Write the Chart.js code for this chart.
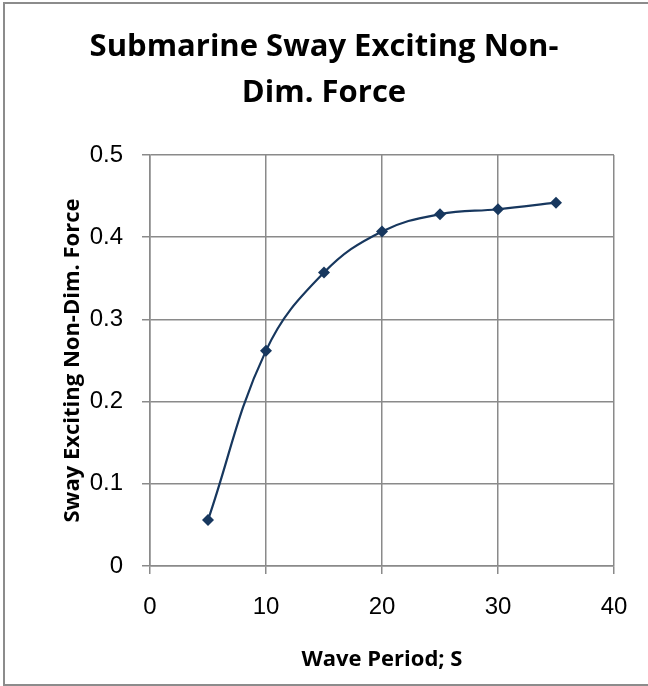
<!DOCTYPE html>
<html>
<head>
<meta charset="utf-8">
<script src="https://cdn.jsdelivr.net/npm/chart.js@4/dist/chart.umd.min.js"></script>
<style>
  html, body { margin: 0; padding: 0; background: #fff; overflow: hidden; }
  #wrap { position: relative; width: 648px; height: 686px; }
  #frame {
    position: absolute; left: 3px; top: 2px; width: 680px; height: 680px;
    border: 2px solid #8c8c8c; pointer-events: none;
  }
</style>
</head>
<body>
<div id="wrap">
  <canvas id="swayChart" width="648" height="686"></canvas>
  <div id="frame"></div>
</div>
<script>
// Datos
const periods = [5, 10, 15, 20, 25, 30, 35];
const forces = [0.056, 0.262, 0.357, 0.407, 0.428, 0.434, 0.442];
const xTicks = [0, 10, 20, 30, 40];
const yTicks = [0, 0.1, 0.2, 0.3, 0.4, 0.5];

const titleLines = ['Submarine Sway Exciting Non-', 'Dim. Force'];
const xTitle = 'Wave Period; S';
const yTitle = 'Sway Exciting Non-Dim. Force';

const lineColor = '#17375E';
const gridColor = '#8a8a8a';

const ctx = document.getElementById('swayChart').getContext('2d');
const swayChart = new Chart(ctx, {
    type: 'scatter',
    data: {
        datasets: [{
            label: yTitle,
            data: periods.map((p, i) => ({ x: p, y: forces[i] })),
            showLine: true,
            tension: 0.4,
            borderColor: lineColor,
            backgroundColor: lineColor,
            borderWidth: 2.2,
            pointStyle: 'rectRot',
            pointRadius: 6,
            pointBorderWidth: 0
        }]
    },
    options: {
        responsive: false,
        animation: false,
        layout: { padding: { left: 34, right: 34, top: 0, bottom: 9 } },
        plugins: {
            legend: { display: false },
            tooltip: { enabled: false },
            title: {
                display: true,
                text: titleLines,
                color: '#000',
                font: { family: 'Open Sans', size: 31, weight: 'bold', lineHeight: 1.484 },
                padding: { top: 24, bottom: 39 }
            }
        },
        scales: {
            x: {
                type: 'linear',
                min: xTicks[0],
                max: xTicks[xTicks.length - 1],
                afterBuildTicks: (scale) => { scale.ticks = xTicks.map(v => ({ value: v })); },
                afterFit: (scale) => { scale.height = 111; },
                ticks: {
                    color: '#000',
                    padding: 19,
                    font: { family: 'Liberation Sans', size: 24 }
                },
                grid: { color: gridColor, lineWidth: 1.5, tickLength: 8 },
                border: { color: gridColor, width: 1.5 },
                title: {
                    display: true,
                    text: xTitle,
                    color: '#000',
                    font: { family: 'Open Sans', size: 22, weight: 'bold' },
                    padding: { top: 4, bottom: 4 }
                }
            },
            y: {
                type: 'linear',
                min: yTicks[0],
                max: yTicks[yTicks.length - 1],
                afterBuildTicks: (scale) => { scale.ticks = yTicks.map(v => ({ value: v })); },
                afterFit: (scale) => { scale.width = 116; },
                ticks: {
                    color: '#000',
                    padding: 19,
                    font: { family: 'Liberation Sans', size: 24 },
                    callback: (v) => String(Math.round(v * 10) / 10)
                },
                grid: { color: gridColor, lineWidth: 1.5, tickLength: 8 },
                border: { color: gridColor, width: 1.5 },
                title: {
                    display: true,
                    text: yTitle,
                    color: '#000',
                    font: { family: 'Open Sans', size: 22, weight: 'bold' },
                    padding: { top: 26, bottom: 4 }
                }
            }
        }
    }
});
</script>
</body>
</html>
